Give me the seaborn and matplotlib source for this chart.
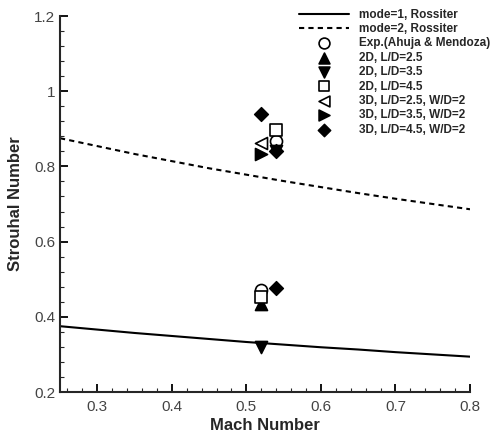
import matplotlib
matplotlib.use("Agg")
import matplotlib.pyplot as plt
import seaborn as sns
import pandas as pd
from matplotlib.ticker import MultipleLocator

sns.set_style("ticks")
plt.rcParams['font.family'] = ['Liberation Sans', 'DejaVu Sans']

# Rossiter curves
mach_curve = [0.25, 0.30, 0.35, 0.40, 0.45, 0.50, 0.55, 0.60, 0.65, 0.70, 0.75, 0.80]
mode1 = [0.375, 0.366, 0.357, 0.349, 0.341, 0.333, 0.326, 0.319, 0.313, 0.306, 0.300, 0.294]
mode2 = [0.875, 0.854, 0.833, 0.814, 0.795, 0.778, 0.761, 0.745, 0.729, 0.714, 0.700, 0.686]

# Data points
exp_m = [0.52, 0.54];  exp_st = [0.472, 0.868]
d2_25_m = [0.52];      d2_25_st = [0.435]
d2_35_m = [0.52];      d2_35_st = [0.32]
d2_45_m = [0.52, 0.54]; d2_45_st = [0.452, 0.897]
d3_25_m = [0.52];      d3_25_st = [0.862]
d3_35_m = [0.52];      d3_35_st = [0.832]
d3_45_m = [0.52, 0.54]; d3_45_st = [0.940, 0.476]
d3_45b_m = [0.54];     d3_45b_st = [0.842]
d2_35b_m = [0.54];     d2_35b_st = [0.842]

fig = plt.figure(figsize=(4.96, 4.32), dpi=100)
ax = fig.add_axes([60/496, 40/432, 410/496, 376/432])

sns.lineplot(x=mach_curve, y=mode1, ax=ax, color='black', lw=1.5, label='mode=1, Rossiter')
sns.lineplot(x=mach_curve, y=mode2, ax=ax, color='black', lw=1.5, ls=(0, (2.5, 2)), label='mode=2, Rossiter')

ms = 75
kw = dict(ax=ax, s=ms, edgecolor='black', linewidth=1.2, zorder=3)
sns.scatterplot(x=exp_m, y=exp_st, marker='o', color='white', label='Exp.(Ahuja & Mendoza)', **kw)
sns.scatterplot(x=d2_25_m, y=d2_25_st, marker='^', color='black', label='2D, L/D=2.5', **kw)
sns.scatterplot(x=d2_35_m + d2_35b_m, y=d2_35_st + d2_35b_st, marker='v', color='black', label='2D, L/D=3.5', **kw)
sns.scatterplot(x=d2_45_m, y=d2_45_st, marker='s', color='white', label='2D, L/D=4.5', **kw)
sns.scatterplot(x=d3_25_m, y=d3_25_st, marker='<', color='white', label='3D, L/D=2.5, W/D=2', **kw)
sns.scatterplot(x=d3_35_m, y=d3_35_st, marker='>', color='black', label='3D, L/D=3.5, W/D=2', **kw)
sns.scatterplot(x=d3_45_m + d3_45b_m, y=d3_45_st + d3_45b_st, marker='D', color='black',
                label='3D, L/D=4.5, W/D=2', ax=ax, s=50, edgecolor='black', linewidth=1.0, zorder=3)

ax.set_xlim(0.25, 0.8)
ax.set_ylim(0.2, 1.2)
ax.xaxis.set_major_locator(MultipleLocator(0.1))
ax.xaxis.set_minor_locator(MultipleLocator(0.02))
ax.yaxis.set_major_locator(MultipleLocator(0.2))
ax.yaxis.set_minor_locator(MultipleLocator(0.04))
ax.set_xticks([0.3, 0.4, 0.5, 0.6, 0.7, 0.8])
ax.set_xticklabels(['0.3', '0.4', '0.5', '0.6', '0.7', '0.8'])
ax.set_yticks([0.2, 0.4, 0.6, 0.8, 1.0, 1.2])
ax.set_yticklabels(['0.2', '0.4', '0.6', '0.8', '1', '1.2'])
ax.tick_params(which='major', direction='in', length=6, width=1.3, labelsize=11, colors='black', labelcolor='#444')
ax.tick_params(which='minor', direction='in', length=3, width=0.8)
ax.tick_params(axis='x', pad=6)
for s in ['top', 'right']:
    ax.spines[s].set_visible(False)
for s in ['left', 'bottom']:
    ax.spines[s].set_linewidth(1.5)

ax.set_xlabel('Mach Number', fontsize=12, fontweight='bold', labelpad=3)
ax.set_ylabel('Strouhal Number', fontsize=12, fontweight='bold', labelpad=8)

leg = ax.legend(loc='upper left', bbox_to_anchor=(294/496, 1 - 4/432), bbox_transform=fig.transFigure,
                frameon=False, prop={'size': 8.5, 'weight': 'bold'}, handlelength=4.3,
                handletextpad=0.8, labelspacing=0.2, borderaxespad=0, markerscale=0.9)

fig.savefig('out.png', dpi=100)
